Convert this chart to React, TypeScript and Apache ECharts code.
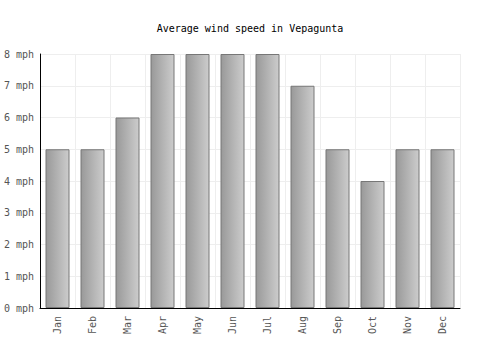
import React, { useEffect, useRef } from "react";
import * as echarts from "echarts";

const months = ["Jan", "Feb", "Mar", "Apr", "May", "Jun", "Jul", "Aug", "Sep", "Oct", "Nov", "Dec"];
const windSpeed = [5, 5, 6, 8, 8, 8, 8, 7, 5, 4, 5, 5];
const titleText = "Average wind speed in Vepagunta";

export default function App() {
  const ref = useRef<HTMLDivElement>(null);
  useEffect(() => {
    if (!ref.current) return;
    const chart = echarts.init(ref.current, undefined, { renderer: "svg" });
    const font = "'DejaVu Sans Mono', monospace";
    chart.setOption({
      animation: false,
      title: {
        text: titleText,
        left: "center",
        top: 18,
        textStyle: { fontFamily: font, fontSize: 10, fontWeight: "normal", color: "#000" },
      },
      grid: { left: 40, right: 40, top: 54, bottom: 42, containLabel: false },
      xAxis: {
        type: "category",
        data: months,
        boundaryGap: true,
        axisLine: { show: true, lineStyle: { color: "#000", width: 1 } },
        axisTick: { show: false },
        splitLine: { show: true, lineStyle: { color: "#eeeeee" } },
        axisLabel: { rotate: 90, fontFamily: font, fontSize: 10, color: "#555", margin: 8 },
      },
      yAxis: {
        type: "value",
        min: 0,
        max: 8,
        interval: 1,
        axisLine: { show: true, lineStyle: { color: "#000", width: 1 } },
        axisTick: { show: false },
        splitLine: { show: true, lineStyle: { color: "#eeeeee" } },
        axisLabel: { formatter: "{value} mph", fontFamily: font, fontSize: 10, color: "#555", margin: 6 },
      },
      series: [
        {
          type: "bar",
          data: windSpeed,
          barWidth: 24,
          itemStyle: {
            color: new echarts.graphic.LinearGradient(0, 0, 1, 0, [
              { offset: 0, color: "#999999" },
              { offset: 1, color: "#cccccc" },
            ]),
            borderColor: "#777777",
            borderWidth: 1,
          },
        },
      ],
    });
    return () => chart.dispose();
  }, []);
  return <div ref={ref} style={{ width: 500, height: 350, position: "absolute", left: 0, top: 0 }} />;
}
